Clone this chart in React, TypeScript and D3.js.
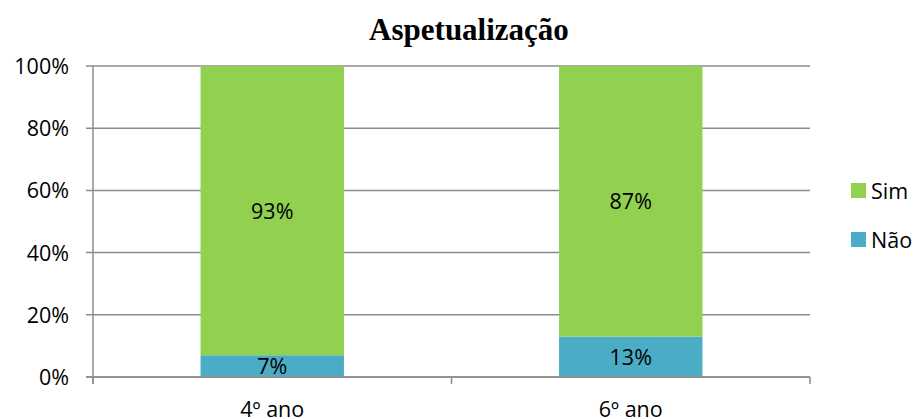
import React from "react";
import * as d3 from "d3";

const categories = ["4º ano", "6º ano"];
const naoValues = [7, 13];
const simValues = [93, 87];
const seriesNames = ["Sim", "Não"];
const yTicks = [0, 20, 40, 60, 80, 100];

const W = 917, H = 419;
const left = 93, right = 810, top = 66, bottom = 377;
const GREEN = "#92D050", BLUE = "#4BACC6";
const FONT = "'Open Sans', 'Noto Sans', sans-serif";
const FS = 21.5;

export default function App() {
  const x = d3.scaleBand().domain(categories).range([left, right]).paddingInner(0).paddingOuter(0);
  const y = d3.scaleLinear().domain([0, 100]).range([bottom, top]);
  const bw = x.bandwidth() * 0.4;
  const data = categories.map((c, i) => ({ c, nao: naoValues[i], sim: simValues[i] }));
  const stack = d3.stack<any>().keys(["nao", "sim"])(data);
  const colors: Record<string, string> = { nao: BLUE, sim: GREEN };
  const boundaries = [left, ...categories.map((c) => (x(c) as number) + x.bandwidth())];
  return (
    <svg width={W} height={H} style={{ position: "absolute", left: 0, top: 0 }}>
      <rect width={W} height={H} fill="#fff" />
      <text x={469} y={40} textAnchor="middle" fontFamily="'Liberation Serif', 'Times New Roman', serif" fontWeight="bold" fontSize={31}>
        Aspetualização
      </text>
      {yTicks.map((t) => (
        <g key={t}>
          <line x1={86} x2={right} y1={y(t)} y2={y(t)} stroke="#8c8c8c" strokeWidth={1.5} />
          <text x={69} y={y(t) + 8} textAnchor="end" fontFamily={FONT} fontSize={FS} fill="#000">
            {t}%
          </text>
        </g>
      ))}
      <line x1={left} x2={left} y1={top} y2={384} stroke="#8c8c8c" strokeWidth={1.5} />
      {boundaries.map((b, i) => (
        <line key={i} x1={b} x2={b} y1={bottom} y2={384} stroke="#8c8c8c" strokeWidth={1.5} />
      ))}
      {stack.map((s) =>
        s.map((d, i) => {
          const cx = (x(categories[i]) as number) + x.bandwidth() / 2;
          const y0 = y(d[0]), y1 = y(d[1]);
          return (
            <g key={s.key + i}>
              <rect x={cx - bw / 2} width={bw} y={y1} height={y0 - y1} fill={colors[s.key]} />
              <text x={cx} y={(y0 + y1) / 2 + 8} textAnchor="middle" fontFamily={FONT} fontSize={FS} fill="#000">
                {d[1] - d[0]}%
              </text>
            </g>
          );
        })
      )}
      <line x1={86} x2={right} y1={bottom} y2={bottom} stroke="#8c8c8c" strokeWidth={1.5} />
      {categories.map((c) => (
        <text key={c} x={(x(c) as number) + x.bandwidth() / 2} y={417} textAnchor="middle" fontFamily={FONT} fontSize={FS} fill="#000">
          {c}
        </text>
      ))}
      {seriesNames.map((n, i) => (
        <g key={n}>
          <rect x={851} y={183 + i * 49} width={15} height={15} fill={n === "Sim" ? GREEN : BLUE} />
          <text x={871} y={199 + i * 49} fontFamily={FONT} fontSize={FS} fill="#000">
            {n}
          </text>
        </g>
      ))}
    </svg>
  );
}
